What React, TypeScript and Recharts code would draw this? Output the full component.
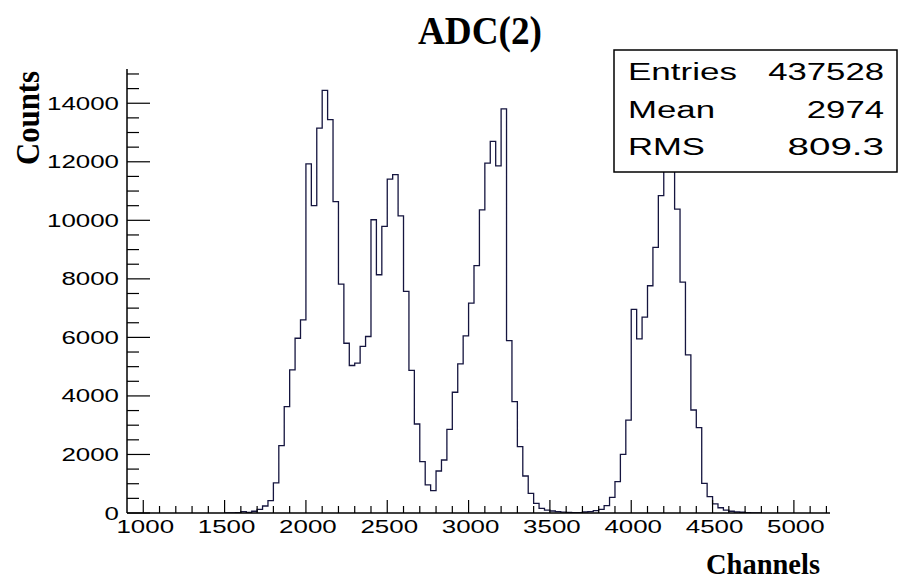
import React from 'react';
import { ComposedChart, Line, XAxis, YAxis } from 'recharts';

// Histogram definition (ADC channel bins)
const BIN_WIDTH = 100 / 3;
const FIRST_BIN_LOW_EDGE = 1500;
const counts: number[] = [
  0, 0, 10, 45, 20, 60, 125, 240, 420, 1030, 2300, 3635, 4890, 5970, 6600,
  11930, 10500, 13150, 14440, 13440, 10640, 7820, 5800, 5040, 5120,
  5690, 6030, 10020, 8140, 9790, 11410, 11560, 10150, 7570, 4870,
  3040, 1755, 960, 765, 1435, 1810, 2860, 4125, 5095, 6050,
  7170, 8455, 10360, 11955, 12695, 11860, 13810, 5890, 3805, 2270,
  1265, 670, 330, 160, 100, 68, 45, 30, 20, 15,
  15, 35, 45, 80, 125, 250, 535, 1070, 2000, 3170,
  6960, 5950, 6690, 7765, 9075, 10845, 11950, 11800, 10380, 7890,
  5400, 3520, 2920, 1015, 560, 310, 180, 100, 60, 35, 25, 10, 0, 0,
];

const X_DOMAIN: [number, number] = [900, 5222];
const Y_DOMAIN: [number, number] = [0, 15170];
const xMajorLabels = [1000, 1500, 2000, 2500, 3000, 3500, 4000, 4500, 5000];
const yMajorLabels = [0, 2000, 4000, 6000, 8000, 10000, 12000, 14000];
const X_MINOR_STEP = 100;
const Y_MINOR_STEP = 500;

const title = 'ADC(2)';
const xTitle = 'Channels';
const yTitle = 'Counts';
const statsRows: [string, string][] = [
  ['Entries', '437528'],
  ['Mean', '2974'],
  ['RMS', '809.3'],
];

const xTicks: number[] = [];
for (let v = 1000; v <= 5200; v += X_MINOR_STEP) xTicks.push(v);
const yTicks: number[] = [];
for (let v = 0; v <= 15000; v += Y_MINOR_STEP) yTicks.push(v);

const data = counts.map((c, i) => ({ x: FIRST_BIN_LOW_EDGE + i * BIN_WIDTH, c }));
data.push({ x: FIRST_BIN_LOW_EDGE + counts.length * BIN_WIDTH, c: 0 });

const SANS = '"Liberation Sans", Arial, sans-serif';
const SERIF = '"Liberation Serif", "Times New Roman", serif';
const CHAR_W = 14.4;

const XTick = (props: any) => {
  const { x, y, payload } = props;
  const v = payload.value as number;
  const major = xMajorLabels.includes(v);
  const s = String(v);
  return (
    <g>
      <line x1={x} x2={x} y1={y} y2={y - (major ? 13 : 7)} stroke="#000" strokeWidth={1.2} />
      {major && (
        <text x={x + 2} y={y + 20} textAnchor="middle" fontFamily={SANS} fontSize={18.5} fill="#000"
          textLength={s.length * CHAR_W} lengthAdjust="spacingAndGlyphs">{s}</text>
      )}
    </g>
  );
};

const YTick = (props: any) => {
  const { x, y, payload } = props;
  const v = payload.value as number;
  const major = yMajorLabels.includes(v);
  const s = String(v);
  return (
    <g>
      <line x1={x} x2={x + (major ? 23 : 12)} y1={y} y2={y} stroke="#000" strokeWidth={1.2} />
      {major && (
        <text x={x - 8} y={y + 6.5} textAnchor="end" fontFamily={SANS} fontSize={18.5} fill="#000"
          textLength={s.length * CHAR_W} lengthAdjust="spacingAndGlyphs">{s}</text>
      )}
    </g>
  );
};

export default function App() {
  return (
    <div style={{ position: 'relative', width: 898, height: 581, background: '#fff' }}>
      <style>{'body{margin:0;}'}</style>
      <ComposedChart width={898} height={581} data={data}
        margin={{ top: 69, right: 68, bottom: 0, left: 0 }}>
        <XAxis xAxisId={0} type="number" dataKey="x" domain={X_DOMAIN} allowDataOverflow
          ticks={xTicks} interval={0} tick={<XTick />} tickLine={false} tickSize={0} tickMargin={0}
          height={68} axisLine={{ stroke: '#000', strokeWidth: 1.5 }} />
        <XAxis xAxisId="top" orientation="top" type="number" domain={X_DOMAIN} height={0}
          tick={false} tickLine={false} axisLine={{ stroke: '#000', strokeWidth: 1.5 }} />
        <YAxis yAxisId={0} type="number" domain={Y_DOMAIN} allowDataOverflow
          ticks={yTicks} interval={0} tick={<YTick />} tickLine={false} tickSize={0} tickMargin={0}
          width={127} axisLine={{ stroke: '#000', strokeWidth: 1.5 }} />
        <YAxis yAxisId="right" orientation="right" type="number" domain={Y_DOMAIN} width={0}
          tick={false} tickLine={false} axisLine={{ stroke: '#000', strokeWidth: 1.5 }} />
        <Line xAxisId={0} yAxisId={0} type="stepAfter" dataKey="c" stroke="#15153f" strokeWidth={1.3}
          dot={false} activeDot={false} isAnimationActive={false} />
      </ComposedChart>
      <svg width={898} height={581} style={{ position: 'absolute', left: 0, top: 0, pointerEvents: 'none' }}>
        <text x={480} y={44} textAnchor="middle" fontFamily={SERIF} fontWeight="bold" fontSize={39}
          textLength={124} lengthAdjust="spacingAndGlyphs">{title}</text>
        <text transform="translate(39,118) rotate(-90)" textAnchor="middle" fontFamily={SERIF}
          fontWeight="bold" fontSize={33} textLength={94} lengthAdjust="spacingAndGlyphs">{yTitle}</text>
        <text x={820} y={574} textAnchor="end" fontFamily={SERIF} fontWeight="bold" fontSize={30}
          textLength={114} lengthAdjust="spacingAndGlyphs">{xTitle}</text>
        <rect x={614} y={50} width={283} height={122} fill="#fff" stroke="#000" strokeWidth={1.5} />
        {statsRows.map(([k, v], i) => (
          <g key={k}>
            <text x={628} y={80 + i * 37.5} fontFamily={SANS} fontSize={23}
              textLength={[109, 87, 77][i]} lengthAdjust="spacingAndGlyphs">{k}</text>
            <text x={884} y={80 + i * 37.5} textAnchor="end" fontFamily={SANS} fontSize={23}
              textLength={v.length * 19.3} lengthAdjust="spacingAndGlyphs">{v}</text>
          </g>
        ))}
      </svg>
    </div>
  );
}
